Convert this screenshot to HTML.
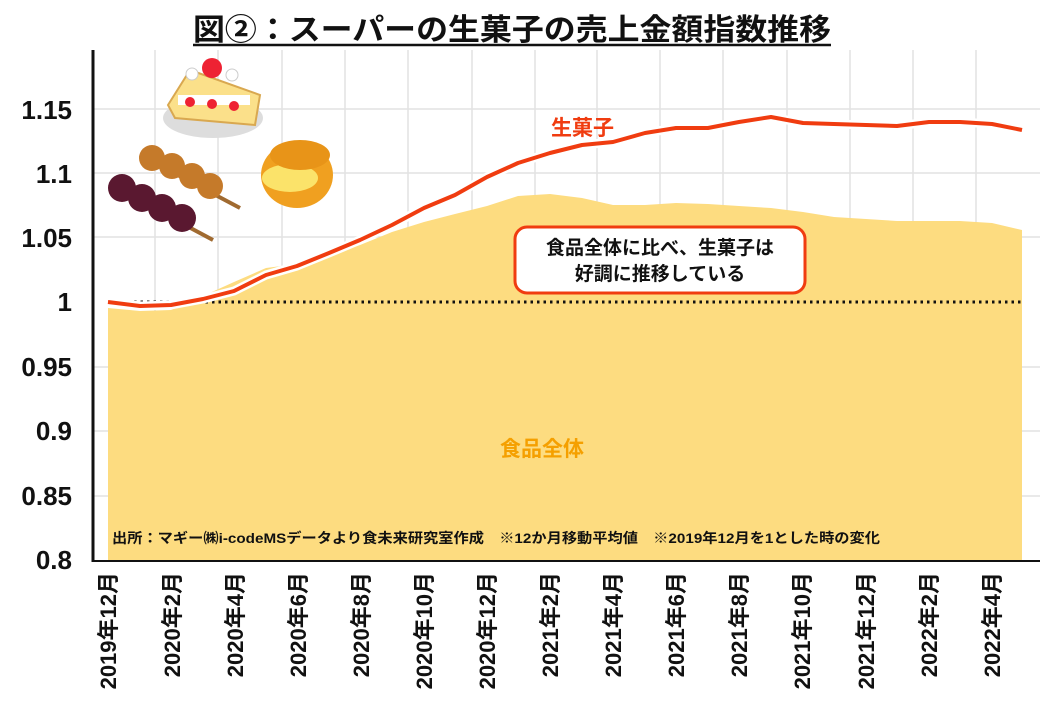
<!DOCTYPE html>
<html><head><meta charset="utf-8"><style>
body{margin:0;background:#fff;width:1040px;height:720px;overflow:hidden;font-family:"Liberation Sans","Noto Sans CJK JP",sans-serif}
</style></head><body>
<svg width="1040" height="720" xmlns="http://www.w3.org/2000/svg" font-family="Liberation Sans, Noto Sans CJK JP, sans-serif">
<rect width="1040" height="720" fill="#fff"/>
<text x="193" y="40" font-size="30" font-weight="bold" fill="#111" textLength="638" lengthAdjust="spacingAndGlyphs">図②：スーパーの生菓子の売上金額指数推移</text>
<line x1="193" y1="45" x2="831" y2="45" stroke="#111" stroke-width="2.5"/>
<g stroke="#e2e2e2" stroke-width="1.5">
<line x1="93" y1="109" x2="1040" y2="109"/><line x1="93" y1="173" x2="1040" y2="173"/><line x1="93" y1="237" x2="1040" y2="237"/><line x1="93" y1="367" x2="1040" y2="367"/><line x1="93" y1="431" x2="1040" y2="431"/><line x1="93" y1="496" x2="1040" y2="496"/>
<line x1="155" y1="50" x2="155" y2="560"/><line x1="218" y1="50" x2="218" y2="560"/><line x1="282" y1="50" x2="282" y2="560"/><line x1="345" y1="50" x2="345" y2="560"/><line x1="408" y1="50" x2="408" y2="560"/><line x1="472" y1="50" x2="472" y2="560"/><line x1="535" y1="50" x2="535" y2="560"/><line x1="597" y1="50" x2="597" y2="560"/><line x1="660" y1="50" x2="660" y2="560"/><line x1="723" y1="50" x2="723" y2="560"/><line x1="787" y1="50" x2="787" y2="560"/><line x1="850" y1="50" x2="850" y2="560"/><line x1="913" y1="50" x2="913" y2="560"/><line x1="976" y1="50" x2="976" y2="560"/>
</g>
<polygon fill="#fddc80" points="108,560 108,308 140,311 171,310 203,296 234,282 266,268 297,264 329,255 360,245 392,232 424,222 455,214 487,206 518,196 550,194 582,198 613,205 645,205 676,203 708,204 739,206 771,208 803,212 834,217 866,219 897,221 929,221 960,221 992,223 1022,230 1022,560"/>
<line x1="108" y1="302" x2="1024" y2="302" stroke="#111" stroke-width="3" stroke-dasharray="2.5,4"/>
<polyline fill="none" stroke="#fff" stroke-width="9" stroke-linejoin="round" points="108,302 140,306 171,305 203,299 234,291 266,275 297,266 329,253 360,240 392,225 424,208 455,195 487,177 518,163 550,153 582,145 613,142 645,133 676,128 708,128 739,122 771,117 803,123 834,124 866,125 897,126 929,122 960,122 992,124 1022,130"/>
<polyline fill="none" stroke="#f03c10" stroke-width="4" stroke-linejoin="round" points="108,302 140,306 171,305 203,299 234,291 266,275 297,266 329,253 360,240 392,225 424,208 455,195 487,177 518,163 550,153 582,145 613,142 645,133 676,128 708,128 739,122 771,117 803,123 834,124 866,125 897,126 929,122 960,122 992,124 1022,130"/>
<line x1="93" y1="50" x2="93" y2="562" stroke="#111" stroke-width="3"/>
<line x1="92" y1="561" x2="1040" y2="561" stroke="#111" stroke-width="2"/>
<g font-size="26" font-weight="bold" fill="#111" text-anchor="end">
<text x="72" y="119">1.15</text><text x="72" y="183">1.1</text><text x="72" y="247">1.05</text><text x="72" y="311">1</text><text x="72" y="376">0.95</text><text x="72" y="440">0.9</text><text x="72" y="505">0.85</text><text x="72" y="569">0.8</text>
</g>
<g font-size="22" font-weight="bold" fill="#111" text-anchor="end">
<text transform="translate(116,572) rotate(-90)">2019年12月</text>
<text transform="translate(180,572) rotate(-90)">2020年2月</text>
<text transform="translate(243,572) rotate(-90)">2020年4月</text>
<text transform="translate(306,572) rotate(-90)">2020年6月</text>
<text transform="translate(369,572) rotate(-90)">2020年8月</text>
<text transform="translate(432,572) rotate(-90)">2020年10月</text>
<text transform="translate(495,572) rotate(-90)">2020年12月</text>
<text transform="translate(558,572) rotate(-90)">2021年2月</text>
<text transform="translate(621,572) rotate(-90)">2021年4月</text>
<text transform="translate(684,572) rotate(-90)">2021年6月</text>
<text transform="translate(747,572) rotate(-90)">2021年8月</text>
<text transform="translate(810,572) rotate(-90)">2021年10月</text>
<text transform="translate(874,572) rotate(-90)">2021年12月</text>
<text transform="translate(937,572) rotate(-90)">2022年2月</text>
<text transform="translate(1000,572) rotate(-90)">2022年4月</text>
</g>
<text x="551" y="135" font-size="21" font-weight="bold" fill="#f03c10">生菓子</text>
<text x="500" y="456" font-size="21" font-weight="bold" fill="#f5a000">食品全体</text>
<rect x="515" y="227" width="290" height="66" rx="12" fill="#fff" stroke="#f03c10" stroke-width="3"/>
<text x="660" y="254" font-size="19" font-weight="bold" fill="#111" text-anchor="middle">食品全体に比べ、生菓子は</text>
<text x="660" y="280" font-size="19" font-weight="bold" fill="#111" text-anchor="middle">好調に推移している</text>
<text x="112" y="543" font-size="14" font-weight="bold" fill="#111" textLength="768" lengthAdjust="spacingAndGlyphs">出所：マギー㈱i-codeMSデータより食未来研究室作成　※12か月移動平均値　※2019年12月を1とした時の変化</text>
<g>
<ellipse cx="213" cy="118" rx="50" ry="20" fill="#ddd"/>
<polygon points="168,105 190,70 260,95 255,125 175,118" fill="#fbe08a" stroke="#d9a850" stroke-width="2"/>
<rect x="178" y="95" width="72" height="10" fill="#fff"/>
<circle cx="190" cy="102" r="5" fill="#e23"/><circle cx="212" cy="104" r="5" fill="#e23"/><circle cx="234" cy="106" r="5" fill="#e23"/>
<circle cx="212" cy="68" r="10" fill="#e23"/><circle cx="192" cy="74" r="6" fill="#fff" stroke="#ccc"/><circle cx="232" cy="75" r="6" fill="#fff" stroke="#ccc"/>
</g>
<g>
<line x1="140" y1="155" x2="240" y2="208" stroke="#a06a30" stroke-width="4"/>
<circle cx="152" cy="158" r="13" fill="#c57a2a"/><circle cx="172" cy="166" r="13" fill="#c57a2a"/><circle cx="192" cy="176" r="13" fill="#c57a2a"/><circle cx="210" cy="186" r="13" fill="#c57a2a"/>
<line x1="110" y1="185" x2="213" y2="240" stroke="#a06a30" stroke-width="4"/>
<circle cx="122" cy="188" r="14" fill="#5a1830"/><circle cx="142" cy="198" r="14" fill="#5a1830"/><circle cx="162" cy="208" r="14" fill="#5a1830"/><circle cx="182" cy="218" r="14" fill="#5a1830"/>
</g>
<g>
<ellipse cx="297" cy="175" rx="36" ry="33" fill="#f0a020"/>
<ellipse cx="290" cy="178" rx="28" ry="14" fill="#fbe36a"/>
<ellipse cx="300" cy="155" rx="30" ry="15" fill="#e89418"/>
</g>
</svg>
</body></html>
